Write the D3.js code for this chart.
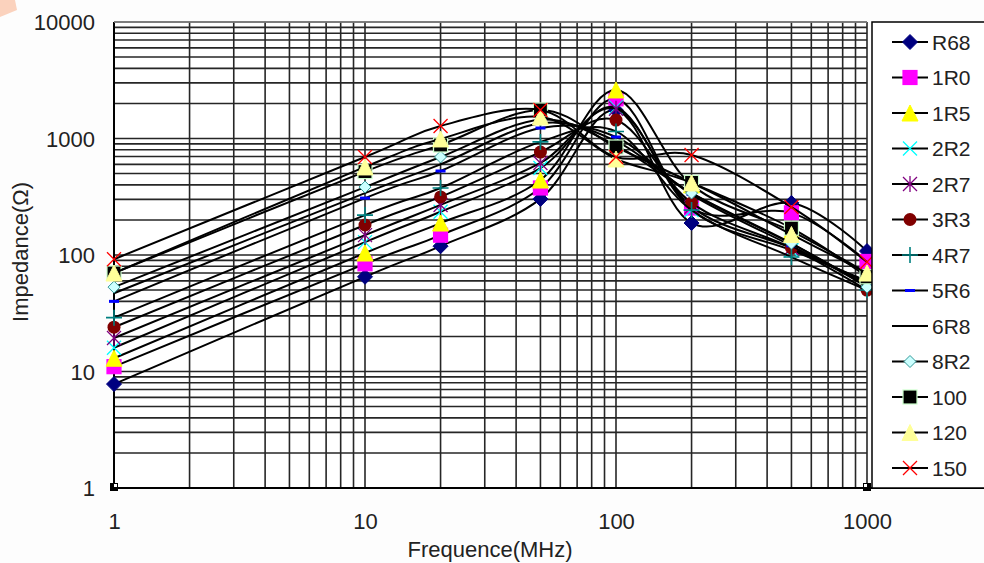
<!DOCTYPE html>
<html>
<head>
<meta charset="utf-8">
<script src="https://d3js.org/d3.v7.min.js"></script>
<style>
  body { margin: 0; background: #fdfdfd; }
  text { font-family: "Liberation Sans", Arial, sans-serif; fill: #222; }
</style>
</head>
<body>
<div id="chart"></div>
<script>
// frequencies (MHz) where each part was measured
var freq = [1, 10, 20, 50, 100, 200, 500, 1000];

// impedance (ohm) per part
var R68  = [7.8, 65, 119, 303, 1750, 188, 280, 108];
var s1R0 = [11, 84, 148, 376, 2190, 253, 230, 88];
var s1R5 = [13, 104, 188, 440, 2610, 400, 160, 70];
var s2R2 = [16, 129, 235, 558, 1850, 243, 110, 60];
var s2R7 = [19.4, 148, 269, 617, 1800, 260, 115, 58];
var s3R3 = [24, 181, 315, 765, 1440, 280, 115, 50];
var s4R7 = [29, 220, 376, 935, 1150, 243, 96, 50];
var s5R6 = [40, 308, 526, 1230, 1030, 330, 120, 55];
var s6R8 = [47, 340, 600, 1350, 950, 340, 125, 55];
var s8R2 = [53, 383, 694, 1450, 870, 340, 126, 53];
var s100 = [70, 520, 880, 1757, 845, 420, 170, 65];
var s120 = [70, 570, 991, 1530, 667, 415, 150, 70];
var s150 = [92, 694, 1280, 1757, 694, 721, 258, 87];

var seriesNames = ["R68", "1R0", "1R5", "2R2", "2R7", "3R3", "4R7", "5R6", "6R8", "8R2", "100", "120", "150"];
var seriesValues = [R68, s1R0, s1R5, s2R2, s2R7, s3R3, s4R7, s5R6, s6R8, s8R2, s100, s120, s150];

var xTickValues = [1, 10, 100, 1000];
var yTickValues = [1, 10, 100, 1000, 10000];

// marker look for each series (Excel defaults)
var markers = [
  {shape: "diamond",  fill: "#000080", stroke: "#000080"},
  {shape: "square",   fill: "#ff00ff", stroke: "#ff00ff"},
  {shape: "triangle", fill: "#ffff00", stroke: "#ffff00"},
  {shape: "x",        fill: "none",    stroke: "#00ffff"},
  {shape: "star",     fill: "none",    stroke: "#800080"},
  {shape: "circle",   fill: "#800000", stroke: "#800000"},
  {shape: "plus",     fill: "none",    stroke: "#008080"},
  {shape: "dash",     fill: "#0000ff", stroke: "none"},
  {shape: "none",     fill: "none",    stroke: "none"},
  {shape: "diamond2", fill: "#ccffff", stroke: "#339999"},
  {shape: "square",   fill: "#000000", stroke: "#ccffcc"},
  {shape: "triangle", fill: "#ffff99", stroke: "#ffff99"},
  {shape: "x",        fill: "none",    stroke: "#ff0000"}
];

var W = 984, H = 563;
var plot = {left: 114, right: 867, top: 22, bottom: 488};

var svg = d3.select("#chart").append("svg")
  .attr("width", W).attr("height", H);

svg.append("rect").attr("width", W).attr("height", H).attr("fill", "#fdfdfd");
// little peach corner of the scan
svg.append("path").attr("d", "M0,0L15,0L17,10L0,17Z").attr("fill", "#fbd2bd");

var x = d3.scaleLog().domain([1, 1000]).range([plot.left, plot.right]);
var y = d3.scaleLog().domain([1, 10000]).range([plot.bottom, plot.top]);

svg.append("rect")
  .attr("x", plot.left).attr("y", plot.top)
  .attr("width", plot.right - plot.left).attr("height", plot.bottom - plot.top)
  .attr("fill", "#ffffff");

// grid: every 1..9 step of each decade
var grid = svg.append("g").attr("stroke", "#262626").attr("stroke-width", 1.6);
grid.selectAll(".vg").data(x.ticks()).enter().append("line")
  .attr("x1", function(d) { return x(d); }).attr("x2", function(d) { return x(d); })
  .attr("y1", plot.top).attr("y2", plot.bottom);
grid.selectAll(".hg").data(y.ticks()).enter().append("line")
  .attr("x1", plot.left).attr("x2", plot.right)
  .attr("y1", function(d) { return y(d); }).attr("y2", function(d) { return y(d); });

// frame
svg.append("line").attr("x1", plot.left).attr("x2", plot.left).attr("y1", plot.top).attr("y2", plot.bottom)
  .attr("stroke", "#000").attr("stroke-width", 2);
svg.append("line").attr("x1", plot.left).attr("x2", W).attr("y1", plot.bottom).attr("y2", plot.bottom)
  .attr("stroke", "#000").attr("stroke-width", 2);
svg.append("line").attr("x1", plot.left).attr("x2", plot.right).attr("y1", plot.top).attr("y2", plot.top)
  .attr("stroke", "#888").attr("stroke-width", 1.5);

// axis labels (no tick lines)
var yAxis = svg.append("g")
  .attr("transform", "translate(" + (plot.left - 19) + ",0)")
  .call(d3.axisLeft(y).tickValues(yTickValues).tickSize(0).tickFormat(d3.format("d")));
yAxis.select(".domain").remove();
yAxis.selectAll("text").attr("font-size", 22).attr("font-family", "Liberation Sans, Arial, sans-serif")
  .attr("fill", "#222").attr("x", 0).attr("dy", "0.36em");

var xAxis = svg.append("g")
  .attr("transform", "translate(0," + (plot.bottom + 25) + ")")
  .call(d3.axisBottom(x).tickValues(xTickValues).tickSize(0).tickFormat(d3.format("d")));
xAxis.select(".domain").remove();
xAxis.selectAll("text").attr("font-size", 22).attr("font-family", "Liberation Sans, Arial, sans-serif")
  .attr("fill", "#222").attr("y", 0).attr("dy", "0.71em");

// corner tick squares
[[plot.left - 4, "r"], [plot.right - 4, "l"]].forEach(function(c) {
  svg.append("rect").attr("x", c[0]).attr("y", plot.bottom - 5).attr("width", 8).attr("height", 8).attr("fill", "#000");
  svg.append("rect").attr("x", c[1] == "r" ? c[0] + 4 : c[0] + 1).attr("y", plot.bottom - 4)
    .attr("width", 3).attr("height", 3).attr("fill", "#fff");
});

// titles
svg.append("text").attr("x", 490).attr("y", 557).attr("text-anchor", "middle")
  .attr("font-size", 22).text("Frequence(MHz)");
svg.append("text").attr("transform", "translate(28,252) rotate(-90)").attr("text-anchor", "middle")
  .attr("font-size", 22).text("Impedance(Ω)");

function drawMarker(g, m, cx, cy) {
  var s = 7;
  if (m.shape == "diamond" || m.shape == "diamond2") {
    var r = m.shape == "diamond" ? 7.5 : 6;
    g.append("path").attr("d", "M" + cx + "," + (cy - r) + "L" + (cx + r) + "," + cy + "L" + cx + "," + (cy + r) + "L" + (cx - r) + "," + cy + "Z")
      .attr("fill", m.fill).attr("stroke", m.stroke).attr("stroke-width", 1);
  } else if (m.shape == "square") {
    g.append("rect").attr("x", cx - s).attr("y", cy - s).attr("width", 2 * s).attr("height", 2 * s)
      .attr("fill", m.fill).attr("stroke", m.stroke).attr("stroke-width", 1.2);
  } else if (m.shape == "triangle") {
    g.append("path").attr("d", "M" + cx + "," + (cy - 8) + "L" + (cx + 8) + "," + (cy + 8) + "L" + (cx - 8) + "," + (cy + 8) + "Z")
      .attr("fill", m.fill).attr("stroke", m.stroke).attr("stroke-width", 1);
  } else if (m.shape == "x") {
    g.append("path").attr("d", "M" + (cx - s) + "," + (cy - s) + "L" + (cx + s) + "," + (cy + s) + "M" + (cx + s) + "," + (cy - s) + "L" + (cx - s) + "," + (cy + s))
      .attr("stroke", m.stroke).attr("stroke-width", 1.3);
  } else if (m.shape == "star") {
    g.append("path").attr("d", "M" + (cx - s) + "," + (cy - s) + "L" + (cx + s) + "," + (cy + s) + "M" + (cx + s) + "," + (cy - s) + "L" + (cx - s) + "," + (cy + s) + "M" + cx + "," + (cy - s - 1) + "L" + cx + "," + (cy + s + 1))
      .attr("stroke", m.stroke).attr("stroke-width", 1.3);
  } else if (m.shape == "plus") {
    g.append("path").attr("d", "M" + (cx - s - 1) + "," + cy + "L" + (cx + s + 1) + "," + cy + "M" + cx + "," + (cy - s - 1) + "L" + cx + "," + (cy + s + 1))
      .attr("stroke", m.stroke).attr("stroke-width", 1.6);
  } else if (m.shape == "circle") {
    g.append("circle").attr("cx", cx).attr("cy", cy).attr("r", 6.5).attr("fill", m.fill);
  } else if (m.shape == "dash") {
    g.append("rect").attr("x", cx - 5).attr("y", cy - 1.5).attr("width", 10).attr("height", 3).attr("fill", m.fill);
  }
}

var line = d3.line()
  .x(function(d) { return x(d[0]); })
  .y(function(d) { return y(d[1]); })
  .curve(d3.curveCardinal.tension(0));

var series = svg.append("g");
seriesValues.forEach(function(vals, i) {
  var pts = freq.map(function(f, j) { return [f, vals[j]]; });
  var g = series.append("g");
  g.append("path").attr("d", line(pts)).attr("fill", "none").attr("stroke", "#000").attr("stroke-width", 2);
  pts.forEach(function(p) { drawMarker(g, markers[i], x(p[0]), y(p[1])); });
});

// legend
svg.append("rect").attr("x", 872).attr("y", plot.top).attr("width", 130).attr("height", plot.bottom - plot.top)
  .attr("fill", "#fff").attr("stroke", "#000").attr("stroke-width", 1.5);
var legend = svg.append("g");
seriesNames.forEach(function(name, i) {
  var ly = 42 + i * 35.5;
  var g = legend.append("g");
  g.append("line").attr("x1", 892).attr("x2", 928).attr("y1", ly).attr("y2", ly).attr("stroke", "#000").attr("stroke-width", 2);
  drawMarker(g, markers[i], 910, ly);
  g.append("text").attr("x", 932).attr("y", ly).attr("dy", "0.36em").attr("font-size", 21).text(name);
});
</script>
</body>
</html>
